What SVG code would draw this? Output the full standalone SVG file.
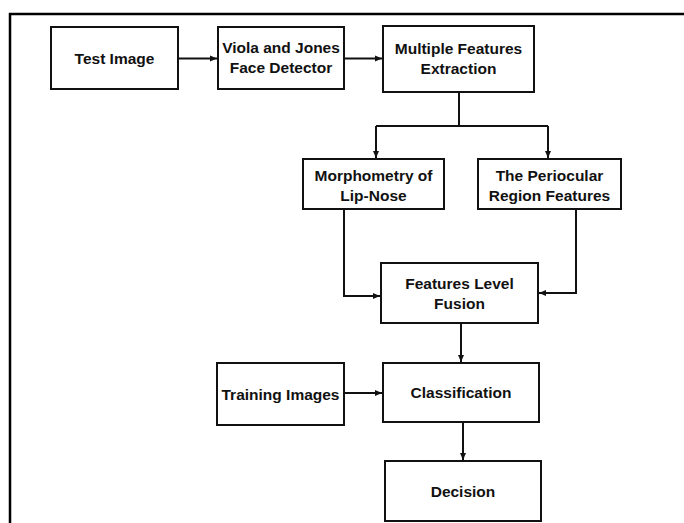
<svg xmlns="http://www.w3.org/2000/svg" width="684" height="523" viewBox="0 0 684 523">
<defs>
<style>
.box{fill:#fff;stroke:#111;stroke-width:2}
.t{font-family:"Liberation Sans",Arial,sans-serif;font-weight:bold;font-size:15.5px;fill:#111;text-anchor:middle}
.c{fill:none;stroke:#111;stroke-width:2}
.frame{fill:none;stroke:#000;stroke-width:2.5}
</style>
<marker id="ah" markerUnits="userSpaceOnUse" markerWidth="7" markerHeight="7" refX="7" refY="3.5" orient="auto">
<path d="M0,0.5 L7,3.5 L0,6.5 Z" fill="#111"/>
</marker>
</defs>
<rect width="684" height="523" fill="#fff"/>
<path class="frame" d="M10,523 V14 H684"/>
<g id="connectors">
<path class="c" d="M178,58.5 H217" marker-end="url(#ah)"/>
<path class="c" d="M344,58.5 H382" marker-end="url(#ah)"/>
<path class="c" d="M459,92 V126"/>
<path class="c" d="M376,126 H548"/>
<path class="c" d="M376,126 V158" marker-end="url(#ah)"/>
<path class="c" d="M548,126 V158" marker-end="url(#ah)"/>
<path class="c" d="M344,209 V296 H380" marker-end="url(#ah)"/>
<path class="c" d="M576,209 V293 H539" marker-end="url(#ah)"/>
<path class="c" d="M461,323 V362" marker-end="url(#ah)"/>
<path class="c" d="M344,393 H382" marker-end="url(#ah)"/>
<path class="c" d="M463,422 V460" marker-end="url(#ah)"/>
</g>
<g id="test-image">
<rect class="box" x="51" y="27" width="127" height="62"/>
<text class="t" x="114.5" y="64">Test Image</text>
</g>
<g id="viola-jones">
<rect class="box" x="218" y="27" width="126" height="62"/>
<text class="t" x="281" y="53">Viola and Jones</text>
<text class="t" x="281" y="73">Face Detector</text>
</g>
<g id="multiple-features">
<rect class="box" x="383" y="26" width="151" height="66"/>
<text class="t" x="458.5" y="54">Multiple Features</text>
<text class="t" x="458.5" y="74">Extraction</text>
</g>
<g id="morphometry">
<rect class="box" x="303" y="159" width="141" height="50"/>
<text class="t" x="373.5" y="181">Morphometry of</text>
<text class="t" x="373.5" y="201">Lip-Nose</text>
</g>
<g id="periocular">
<rect class="box" x="478" y="159" width="143" height="50"/>
<text class="t" x="549.5" y="181">The Periocular</text>
<text class="t" x="549.5" y="201">Region Features</text>
</g>
<g id="fusion">
<rect class="box" x="381" y="263" width="157" height="60"/>
<text class="t" x="459.5" y="289">Features Level</text>
<text class="t" x="459.5" y="309">Fusion</text>
</g>
<g id="training">
<rect class="box" x="217" y="363" width="127" height="62"/>
<text class="t" x="280.5" y="400">Training Images</text>
</g>
<g id="classification">
<rect class="box" x="383" y="363" width="156" height="59"/>
<text class="t" x="461" y="398">Classification</text>
</g>
<g id="decision">
<rect class="box" x="385" y="461" width="156" height="60"/>
<text class="t" x="463" y="497">Decision</text>
</g>
</svg>
